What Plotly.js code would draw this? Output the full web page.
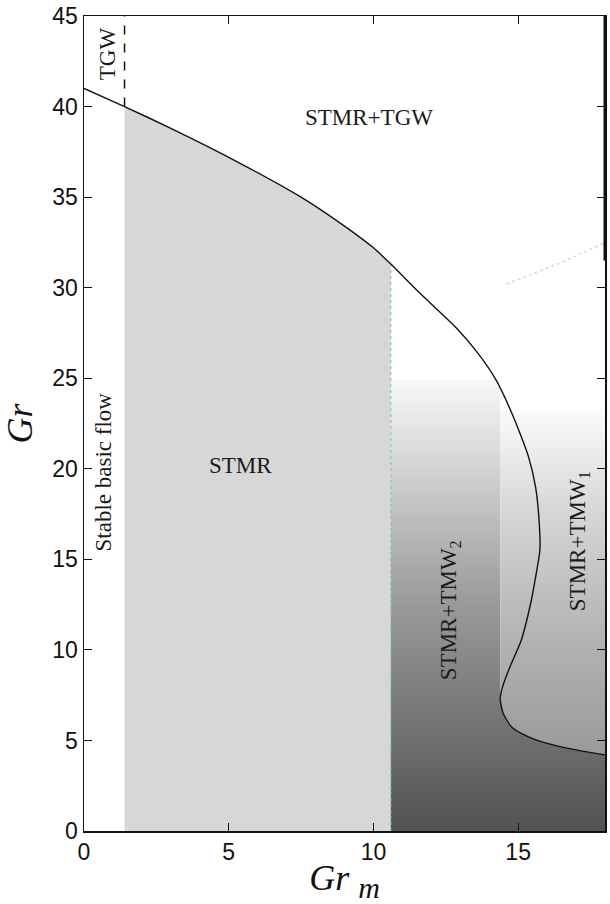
<!DOCTYPE html>
<html>
<head>
<meta charset="utf-8">
<script src="https://cdn.plot.ly/plotly-3.0.1.min.js"></script>
<style>html,body{margin:0;padding:0;background:#fff;}#chart{width:610px;height:904px;}</style>
</head>
<body>
<div id="chart"></div>
<script>
// Boundary curve between STMR regions and STMR+TGW / TMW regions
const curveX = [0, 1.4, 3.0, 5.0, 7.5, 9.0, 10.0, 10.6, 11.6, 12.85, 13.6, 14.2, 14.8, 15.35, 15.6, 15.72, 15.75, 15.6, 15.45, 15.1, 14.7, 14.45, 14.38, 14.48, 14.8, 15.5, 16.6, 18.0];
const curveY = [41.0, 40.0, 38.8, 37.2, 35.0, 33.4, 32.2, 31.3, 29.7, 27.8, 26.4, 25.0, 23.0, 20.7, 19.0, 17.2, 15.5, 14.0, 12.7, 10.5, 9.0, 7.9, 7.3, 6.5, 5.7, 5.1, 4.6, 4.2];

// Region boundaries
const tgwX = 1.4;          // dashed TGW boundary
const tmw2X = 10.6;        // start of STMR+TMW2 region
const tmw1X = 14.38;       // start of STMR+TMW1 region
const tmw2Top = 24.9;      // top of TMW2 shading
const tmw1Top = 23.3;      // top of TMW1 shading
const xMax = 18, yMax = 45;

// Faint dotted segment (upper right)
const faintX = [14.6, 16.5, 17.2, 18.0];
const faintY = [30.2, 31.4, 31.9, 32.5];

// Region labels
const labelText = ["TGW", "STMR+TGW", "STMR", "Stable basic flow", "STMR+TMW<sub>2</sub>", "STMR+TMW<sub>1</sub>"];
const labelX = [0.8, 9.85, 5.4, 0.66, 12.65, 17.1];
const labelY = [42.9, 39.4, 20.2, 19.8, 12.2, 16.0];
const labelAngle = [-90, 0, 0, -90, -90, -90];

const xTicks = [0, 5, 10, 15];
const yTicks = [0, 5, 10, 15, 20, 25, 30, 35, 40, 45];

// --- build region polygons from the data ---
const iA = curveX.indexOf(tgwX), iB = curveX.indexOf(tmw2X);
const grayX = [tgwX].concat(curveX.slice(iA, iB + 1), [tmw2X]);
const grayY = [0].concat(curveY.slice(iA, iB + 1), [0]);

const iL = curveX.indexOf(tmw1X);
const lowX = curveX.slice(iL), lowY = curveY.slice(iL);

const darkX = [tmw2X, tmw2X, tmw1X].concat(lowX, [xMax, tmw2X]);
const darkY = [0, tmw2Top, tmw2Top].concat(lowY, [0, 0]);

const lightX = [tmw1X, tmw1X, xMax].concat(lowX.slice().reverse());
const lightY = [lowY[0], tmw1Top, tmw1Top].concat(lowY.slice().reverse());

const traces = [
  {x: grayX, y: grayY, type: 'scatter', mode: 'lines', fill: 'toself', fillcolor: '#d7d7d7', line: {width: 0}, hoverinfo: 'skip', showlegend: false},
  {x: darkX, y: darkY, type: 'scatter', mode: 'lines', fill: 'toself', line: {width: 0}, hoverinfo: 'skip', showlegend: false,
   fillgradient: {type: 'vertical', start: 0, stop: tmw2Top, colorscale: [[0, '#525252'], [0.28, '#7a7a7a'], [0.5, '#999999'], [0.8, '#d2d2d2'], [1, '#f8f8f8']]}},
  {x: lightX, y: lightY, type: 'scatter', mode: 'lines', fill: 'toself', line: {width: 0}, hoverinfo: 'skip', showlegend: false,
   fillgradient: {type: 'vertical', start: lowY[lowY.length - 1], stop: tmw1Top, colorscale: [[0, '#9a9a9a'], [0.35, '#b4b4b4'], [0.7, '#d6d6d6'], [1, '#fbfbfb']]}},
  {x: [tmw2X, tmw2X], y: [0, curveY[iB]], type: 'scatter', mode: 'lines', line: {color: 'rgba(110,215,110,0.7)', width: 1.5, dash: 'dot'}, hoverinfo: 'skip', showlegend: false},
  {x: faintX, y: faintY, type: 'scatter', mode: 'lines', line: {color: 'rgba(120,200,150,0.45)', width: 1.5, dash: 'dot'}, hoverinfo: 'skip', showlegend: false},
  {x: [tgwX, tgwX], y: [curveY[iA], yMax], type: 'scatter', mode: 'lines', line: {color: '#111', width: 1.5, dash: 'dash'}, hoverinfo: 'skip', showlegend: false},
  {x: curveX, y: curveY, type: 'scatter', mode: 'lines', line: {color: '#111', width: 1.4, shape: 'spline', smoothing: 0.6}, hoverinfo: 'skip', showlegend: false}
];

const annotations = labelText.map((t, i) => ({
  x: labelX[i], y: labelY[i], xref: 'x', yref: 'y', text: t, showarrow: false,
  textangle: labelAngle[i], font: {family: 'Liberation Serif, Times New Roman, serif', size: 23, color: '#1a1a1a'}
}));

const axisCommon = {
  showline: true, linecolor: '#111', linewidth: 1.5, mirror: 'allticks',
  ticks: 'inside', ticklen: 8, tickwidth: 1.2, tickcolor: '#111',
  showgrid: false, zeroline: false,
  tickfont: {family: 'Liberation Sans, Arial, sans-serif', size: 23, color: '#111'}
};

const layout = {
  width: 610, height: 904,
  margin: {l: 84, r: 5, t: 16, b: 73},
  paper_bgcolor: '#fff', plot_bgcolor: '#fff',
  xaxis: Object.assign({}, axisCommon, {range: [0, xMax], tickvals: xTicks, ticktext: xTicks.map(String),
    title: {text: '<i>Gr</i> <sub><i><span style="font-size:30px">m</span></i></sub>', font: {family: 'Liberation Serif, Times New Roman, serif', size: 36, color: '#111'}, standoff: 2}}),
  yaxis: Object.assign({}, axisCommon, {range: [0, yMax], tickvals: yTicks, ticktext: yTicks.map(String),
    title: {text: '<i>Gr</i>', font: {family: 'Liberation Serif, Times New Roman, serif', size: 36, color: '#111'}, standoff: 10}}),
  annotations: annotations,
  shapes: [{type: 'line', xref: 'x', yref: 'y', x0: xMax, x1: xMax, y0: 31.5, y1: yMax, line: {color: '#111', width: 3}}]
};

Plotly.newPlot('chart', traces, layout, {displayModeBar: false, staticPlot: true});
</script>
</body>
</html>
